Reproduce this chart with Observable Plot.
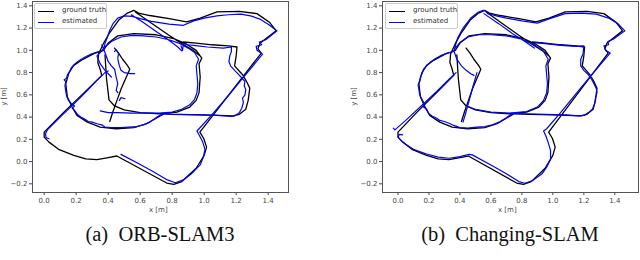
<!DOCTYPE html>
<html><head><meta charset="utf-8">
<script src="https://cdn.jsdelivr.net/npm/d3@7"></script>
<script src="https://cdn.jsdelivr.net/npm/@observablehq/plot@0.6"></script>
<style>
body{margin:0;width:640px;height:260px;background:#fff;position:relative;overflow:hidden;font-family:"DejaVu Sans",sans-serif;}
.panel{position:absolute;top:0;}
.cap{position:absolute;top:223px;font-family:"Liberation Serif",serif;font-size:20.5px;color:#111;white-space:nowrap;transform:translateX(-50%);}
.lab{position:absolute;font-size:7px;color:#444;white-space:nowrap;}
.ylab{position:absolute;font-size:7px;color:#444;white-space:nowrap;width:30px;height:9px;line-height:9px;text-align:center;transform:rotate(-90deg);}
.legend{position:absolute;border:1px solid #ccc;border-radius:2px;background:rgba(255,255,255,0.9);width:71px;height:24px;font-size:7px;color:#333;}
.legend .row{position:absolute;left:3px;height:8px;}
.legend .sw{position:absolute;left:0;top:4px;width:16px;border-top:1.5px solid;}
.legend .tx{position:absolute;left:24px;top:-1px;white-space:nowrap;}
</style></head>
<body>
<div id="pa" class="panel" style="left:0"></div>
<div id="pb" class="panel" style="left:320px"></div>
<div class="lab" style="left:149px;top:206px">x [m]</div>
<div class="lab" style="left:498px;top:206px">x [m]</div>
<div class="ylab" style="left:-11px;top:92px">y [m]</div>
<div class="ylab" style="left:339px;top:92px">y [m]</div>
<div class="legend" style="left:34px;top:3px">
  <div class="row" style="top:3px"><div class="sw" style="border-color:#000"></div><div class="tx">ground truth</div></div>
  <div class="row" style="top:14px"><div class="sw" style="border-color:#0000ff"></div><div class="tx">estimated</div></div>
</div>
<div class="legend" style="left:385px;top:3px">
  <div class="row" style="top:3px"><div class="sw" style="border-color:#000"></div><div class="tx">ground truth</div></div>
  <div class="row" style="top:14px"><div class="sw" style="border-color:#0000ff"></div><div class="tx">estimated</div></div>
</div>
<div class="cap" style="left:160px">(a)&nbsp; ORB-SLAM3</div>
<div class="cap" style="left:510px">(b)&nbsp; Changing-SLAM</div>
<script>
const xTicks = [0.0, 0.2, 0.4, 0.6, 0.8, 1.0, 1.2, 1.4];
const yTicks = [-0.2, 0.0, 0.2, 0.4, 0.6, 0.8, 1.0, 1.2, 1.4];
const captions = ["(a) ORB-SLAM3", "(b) Changing-SLAM"];

// ground truth trajectory [x, y] in metres (null = gap)
const groundTruth = [
  [0.41,0.36],[0.43,0.45],[0.455,0.55],[0.48,0.65],[0.51,0.75],[0.535,0.83],[0.52,0.865],[0.49,0.92],[0.465,0.975],[0.44,1.02], null,
  [0.38,0.96],[0.385,0.85],[0.39,0.74],[0.40,0.62],[0.405,0.555],[0.44,0.50],[0.50,0.465],[0.60,0.44],[0.72,0.43],[0.83,0.445],[0.91,0.49],[0.95,0.55],[0.968,0.62],[0.975,0.76],[0.968,0.88],[0.985,0.93],[0.95,1.0],[0.89,1.055],[0.81,1.105],[0.70,1.14],[0.56,1.15],[0.46,1.13],[0.40,1.065],[0.37,1.0],[0.31,0.97],[0.23,0.91],[0.185,0.865],[0.155,0.80],[0.135,0.70],[0.145,0.58],[0.175,0.49],[0.205,0.415],[0.27,0.355],[0.35,0.31],[0.45,0.295],[0.56,0.305],[0.64,0.34],[0.70,0.39],[0.75,0.43],[0.85,0.425],[1.0,0.42],[1.18,0.41],[1.22,0.425],[1.26,0.47],[1.275,0.55],[1.285,0.66],[1.265,0.72],[1.24,0.78],[1.19,0.86],[1.20,0.95],[1.205,1.03],[1.15,1.04],[1.05,1.05],[0.95,1.065],[0.87,1.075], null,
  [0.36,0.775],[0.25,0.62],[0.12,0.44],[0.0,0.265],[0.0,0.22],[0.03,0.175],[0.09,0.11],[0.185,0.056],[0.26,0.025],[0.33,0.017],[0.40,0.035],[0.454,0.05],[0.766,-0.193],[0.81,-0.205],[0.86,-0.18],[0.95,-0.06],[1.0,0.056],[1.015,0.13],[0.998,0.205],[0.973,0.265],[1.357,0.975],[1.336,1.014],[1.35,1.065],[1.45,1.175],[1.41,1.25],[1.33,1.33],[1.22,1.35],[1.08,1.345],[0.975,1.29],[0.89,1.255],[0.79,1.283],[0.66,1.313],[0.59,1.335],[0.56,1.36],[0.52,1.335],[0.465,1.27],[0.41,1.16],[0.37,1.06],[0.34,0.97],[0.335,0.89],[0.35,0.83],[0.36,0.775], null,
  [0.57,1.345],[0.68,1.235],[0.78,1.135],[0.86,1.06],[0.93,1.0],[0.975,0.95]
];

// ORB-SLAM3 estimate
const estimatedA = [
  [0.03,0.205],[0.012,0.215],[0.008,0.25],[0.02,0.285],[0.10,0.40],[0.18,0.51],[0.26,0.625],[0.33,0.73],[0.38,0.80],[0.40,0.815], null,
  [0.48,0.065],[0.58,-0.01],[0.68,-0.09],[0.77,-0.165],[0.82,-0.19],[0.87,-0.165],[0.92,-0.11],[0.975,-0.03],[0.995,0.04],[1.005,0.11],[0.99,0.18],[0.97,0.235],[0.955,0.275],[1.05,0.425],[1.15,0.59],[1.25,0.765],[1.365,0.965],[1.33,1.0],[1.325,1.035],[1.36,1.05],[1.345,1.075],[1.385,1.095],[1.455,1.175],[1.40,1.235],[1.35,1.28],[1.29,1.31],[1.23,1.325],[1.15,1.32],[1.08,1.31],[1.0,1.29],[0.935,1.265],[0.87,1.225],[0.78,1.235],[0.67,1.26],[0.60,1.285],[0.55,1.305],[0.50,1.31],[0.46,1.29],[0.43,1.24],[0.41,1.18],[0.395,1.12],[0.38,1.06],[0.37,1.0],[0.33,0.985],[0.29,0.965],[0.25,0.935],[0.215,0.905],[0.19,0.875],[0.17,0.845],[0.16,0.81],[0.145,0.78],[0.14,0.75],[0.125,0.735],[0.135,0.72],[0.13,0.68],[0.135,0.63],[0.14,0.59],[0.15,0.555],[0.17,0.52],[0.19,0.5],[0.175,0.48],[0.19,0.46],[0.21,0.42],[0.235,0.395],[0.26,0.375],[0.275,0.36],[0.30,0.355],[0.33,0.34],[0.36,0.33],[0.38,0.31],[0.42,0.305],[0.48,0.305],[0.53,0.31],[0.58,0.315],[0.62,0.33],[0.66,0.355],[0.70,0.395],[0.74,0.43],[0.80,0.425],[0.95,0.42],[1.08,0.415],[1.17,0.405],[1.19,0.41],[1.22,0.44],[1.235,0.48],[1.245,0.53],[1.24,0.57],[1.255,0.60],[1.26,0.65],[1.25,0.68],[1.255,0.72],[1.23,0.76],[1.21,0.79],[1.19,0.82],[1.165,0.86],[1.155,0.90],[1.16,0.95],[1.17,0.99],[1.17,1.03],[1.12,1.02],[1.02,1.03],[0.96,1.04],[0.90,1.05],[0.87,1.06],[0.865,1.0],[0.855,1.04], null,
  [0.35,0.455],[0.40,0.44],[0.46,0.44],[0.55,0.435],[0.65,0.435],[0.72,0.435],[0.80,0.445],[0.86,0.47],[0.91,0.51],[0.94,0.56],[0.955,0.62],[0.96,0.70],[0.955,0.78],[0.95,0.86],[0.965,0.92],[0.94,0.98],[0.90,1.02],[0.85,1.06],[0.78,1.095],[0.70,1.12],[0.62,1.13],[0.55,1.135],[0.48,1.12],[0.42,1.08],[0.38,1.03],[0.35,0.98],[0.33,0.95],[0.35,0.88],[0.38,0.82],[0.42,0.76], null,
  [0.36,1.05],[0.38,0.98],[0.40,0.90],[0.42,0.86],[0.44,0.83],[0.45,0.76],[0.46,0.70],[0.45,0.64],[0.46,0.62], null,
  [0.46,0.92],[0.47,0.86],[0.48,0.82],[0.50,0.80],[0.54,0.79],[0.565,0.79], null,
  [0.47,0.55],[0.48,0.575],[0.505,0.565], null,
  [0.44,0.99],[0.45,1.005],[0.465,0.97],[0.46,0.93], null,
  [0.545,1.32],[0.62,1.25],[0.70,1.17],[0.78,1.09],[0.835,1.03],[0.86,0.995]
];

// Changing-SLAM estimate
const estimatedB = [
  [-0.03,0.30],[-0.02,0.285],[0.05,0.37],[0.15,0.50],[0.25,0.63],[0.33,0.74],[0.375,0.80], null,
  [0.03,0.24],[0.01,0.245],[0.0,0.22],[0.02,0.19],[0.05,0.155],[0.10,0.11],[0.18,0.07],[0.26,0.04],[0.33,0.03],[0.40,0.045],[0.46,0.065],[0.48,0.06],[0.60,-0.03],[0.70,-0.11],[0.78,-0.18],[0.82,-0.195],[0.87,-0.17],[0.93,-0.11],[0.96,-0.05],[0.985,0.02],[0.985,0.10],[0.97,0.17],[0.955,0.23],[0.94,0.275],[0.96,0.295],[1.05,0.44],[1.15,0.61],[1.25,0.78],[1.37,0.975],[1.34,1.0],[1.33,1.04],[1.36,1.05],[1.355,1.08],[1.39,1.10],[1.465,1.175],[1.42,1.24],[1.36,1.29],[1.28,1.325],[1.18,1.335],[1.08,1.33],[0.98,1.285],[0.90,1.245],[0.80,1.265],[0.70,1.29],[0.62,1.315],[0.58,1.33],[0.565,1.355],[0.55,1.36],[0.52,1.345],[0.47,1.29],[0.42,1.20],[0.385,1.11],[0.37,1.04],[0.36,0.99],[0.32,0.975],[0.28,0.955],[0.24,0.925],[0.21,0.895],[0.185,0.86],[0.165,0.83],[0.155,0.79],[0.145,0.76],[0.14,0.72],[0.13,0.69],[0.135,0.65],[0.14,0.60],[0.155,0.56],[0.17,0.52],[0.165,0.49],[0.185,0.47],[0.20,0.43],[0.22,0.41],[0.25,0.39],[0.27,0.37],[0.30,0.36],[0.33,0.345],[0.36,0.325],[0.40,0.305],[0.45,0.30],[0.51,0.31],[0.56,0.315],[0.61,0.33],[0.66,0.36],[0.70,0.395],[0.74,0.435],[0.82,0.43],[0.95,0.425],[1.08,0.42],[1.17,0.41],[1.20,0.415],[1.23,0.44],[1.255,0.47],[1.27,0.52],[1.275,0.57],[1.285,0.62],[1.28,0.66],[1.265,0.70],[1.25,0.74],[1.23,0.78],[1.2,0.82],[1.18,0.86],[1.18,0.92],[1.195,0.97],[1.20,1.04],[1.15,1.035],[1.05,1.045],[0.95,1.06],[0.88,1.07], null,
  [0.42,0.355],[0.44,0.45],[0.46,0.55],[0.485,0.68],[0.51,0.80], null,
  [0.36,1.0],[0.38,0.92],[0.41,0.86],[0.44,0.82],[0.47,0.79],[0.49,0.775], null,
  [0.44,0.50],[0.50,0.47],[0.60,0.445],[0.72,0.435],[0.83,0.45],[0.90,0.49],[0.94,0.55],[0.96,0.62],[0.965,0.70],[0.96,0.78],[0.955,0.86],[0.97,0.92],[0.94,0.99],[0.88,1.05],[0.80,1.10],[0.70,1.13],[0.60,1.14],[0.52,1.14],[0.45,1.12],[0.40,1.07],[0.37,1.02], null,
  [0.555,1.33],[0.65,1.24],[0.74,1.15],[0.82,1.08],[0.88,1.02]
];

function panel(est, xDomain, width, ml, mr) {
  const pt = d => d ? d[0] : NaN, pty = d => d ? d[1] : NaN;
  return Plot.plot({
    width, height: 218,
    marginLeft: ml, marginRight: mr, marginTop: 1, marginBottom: 26,
    x: {domain: xDomain},
    y: {domain: [-0.278, 1.439]},
    style: {fontSize: "7px", fontFamily: "DejaVu Sans", color: "#444", background: "transparent", overflow: "visible"},
    marks: [
      Plot.axisX({ticks: xTicks, tickFormat: d3.format(".1f"), tickSize: 3, tickPadding: 3, label: null, stroke: "#444"}),
      Plot.axisY({ticks: yTicks, tickFormat: d3.format(".1f"), tickSize: 3, tickPadding: 2, label: null, stroke: "#444"}),
      Plot.line(groundTruth, {x: pt, y: pty, stroke: "#000", strokeWidth: 1.3, curve: "linear"}),
      Plot.line(est, {x: pt, y: pty, stroke: "#0000ff", strokeWidth: 1.2, curve: "linear"}),
      Plot.frame({stroke: "#555", strokeWidth: 1})
    ]
  });
}

document.getElementById("pa").appendChild(panel(estimatedA, [-0.073, 1.527], 300, 32, 12));
document.getElementById("pb").appendChild(panel(estimatedB, [-0.10, 1.553], 320, 62, 2));
</script>
</body></html>
